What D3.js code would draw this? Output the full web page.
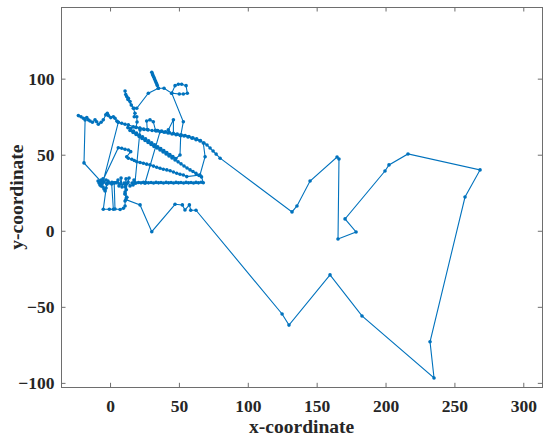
<!DOCTYPE html>
<html lang="en">
<head>
<meta charset="UTF-8">
<title>Trajectory</title>
<script src="https://cdn.jsdelivr.net/npm/d3@7"></script>
<style>
    body { margin: 0; background: #fff; }
    svg { display: block; font-family: "Liberation Serif", "Times New Roman", serif; }
    .tick text { font-family: "Liberation Serif", "Times New Roman", serif; font-size: 17.5px; font-weight: bold; fill: #262626; }
    .tick line { stroke: #6e6e6e; }
    .frame { fill: none; stroke: #6e6e6e; stroke-width: 1; shape-rendering: crispEdges; }
    .track { fill: none; stroke: #0072bd; stroke-width: 1.1; }
    .dot { fill: #0072bd; }
    .axis-label { font-size: 19.5px; font-weight: bold; fill: #262626; text-anchor: middle; }
</style>
</head>
<body>
<svg id="chart" width="550" height="436"></svg>
<script>
// track pieces, [x, y], in the order the path visits them
const blobLeft = [[-7.3,31.4],[-8.7,32.7],[-8.0,31.4],[-6.5,33.4],[-5.8,30.8],[-7.3,30.1],[-5.1,28.8],[-4.4,27.5],[-3.6,26.2],[-2.9,28.1],[-2.2,30.8],[-1.5,32.7],[-2.9,33.4],[-4.4,32.1],[-5.1,34.1],[-6.5,29.5],[-7.3,32.1],[-6.2,32.0]];
const climb = [[-18.9,44.6],[-18.1,72.8]];
const roof = [[-21.1,75.0],[-23.0,75.7],[-19.4,74.0],[-16.9,74.4],[-15.8,72.9],[-14.5,72.2],[-12.8,71.3],[-10.9,72.9],[-9.7,71.7],[-8.5,70.0],[-6.5,71.3],[-4.9,72.9],[-3.1,76.2],[-2.0,77.3],[-1.2,75.7],[0.5,74.4],[2.4,75.0],[3.6,74.0],[4.9,72.2],[6.0,71.3],[-5.1,32.1],[6.0,71.3],[8.5,70.7],[10.9,70.0],[13.3,69.6],[16.9,68.4]];
const lowerBandA = [[14.5,65.9],[16.7,64.6],[18.9,63.3],[21.1,62.0],[23.2,60.7],[25.4,59.4],[27.6,58.1],[29.8,56.7],[31.9,55.4],[34.1,54.4],[36.3,53.1],[38.5,51.8],[40.7,50.5],[42.8,49.2],[45.0,47.9],[47.2,46.6],[49.4,45.3],[51.5,44.0],[53.7,42.6],[55.9,41.3],[58.1,40.0],[60.2,39.0],[62.4,37.7],[64.6,36.4],[66.4,35.4]];
const hBand = [[67.7,31.6],[66.1,31.9],[64.2,31.5],[62.4,31.8],[60.6,31.4],[58.8,31.7],[57.0,31.5],[55.2,31.8],[53.4,31.4],[51.5,31.7],[49.7,31.5],[47.9,31.8],[46.1,31.4],[44.3,31.7],[42.5,31.5],[40.7,31.8],[38.8,31.4],[37.0,31.7],[35.2,31.5],[33.4,31.8],[31.6,31.4],[29.8,31.7],[27.9,31.5],[26.1,31.7],[25.4,31.4],[36.3,65.2],[25.4,31.4],[24.3,31.8],[22.5,31.5],[20.7,31.7],[18.9,31.4],[18.1,31.4],[21.8,66.3],[18.1,31.4]];
const blobMid = [[17.4,33.4],[16.0,31.4],[16.7,30.1],[14.5,29.5],[13.1,32.1],[13.8,34.7],[11.6,34.1],[10.9,28.8],[10.2,31.4],[8.7,28.8],[8.0,34.7],[7.3,30.8],[6.5,29.5],[5.8,33.4],[4.6,31.7],[3.2,31.5],[1.4,31.8],[-0.5,31.5],[-2.4,30.8]];
const lowerRow = [[-4.9,14.1],[-0.5,14.1],[2.4,14.1],[1.2,30.8],[3.0,31.5],[3.6,14.3],[7.3,14.0],[9.7,14.8],[10.9,16.3],[10.9,19.6],[12.1,22.0],[10.9,24.2],[10.9,25.5],[11.5,30.5],[-6.0,31.5]];
const middleBand = [[6.0,54.6],[8.5,54.2],[10.9,53.6],[13.3,53.1],[15.0,52.0],[12.1,48.7],[13.3,47.7],[15.8,47.0],[17.6,46.2],[19.4,45.4],[21.8,44.9],[24.2,44.4],[26.6,43.8],[29.0,43.3],[31.5,42.5],[33.9,41.8],[36.3,41.1],[38.7,40.4],[41.2,40.0],[43.6,39.5],[46.0,38.6],[48.4,37.8],[50.8,37.2],[53.2,36.7],[55.7,35.6]];
const connector = [[65.3,36.7],[69.0,48.7],[67.7,57.7]];
const upperBandBack = [[65.6,59.3],[62.9,60.4],[60.1,61.1],[57.3,62.0],[54.5,62.6],[51.6,63.1],[48.8,63.5],[46.0,64.0],[46.0,72.9],[42.3,66.3],[43.1,64.5],[40.3,65.0],[37.5,65.5],[34.6,65.8],[33.0,66.0],[31.4,71.7],[29.0,72.9],[26.6,72.2],[27.0,66.6],[24.3,66.9],[21.5,67.5],[18.9,68.0]];
const verticalCluster = [[19.6,71.5],[19.4,75.0],[17.6,75.0],[18.1,77.3],[16.9,80.5],[14.5,84.9],[13.3,87.1],[12.1,88.2],[10.9,91.9],[11.4,89.6],[13.0,86.3],[15.4,82.6],[17.4,80.5],[19.4,80.5],[27.8,90.4],[35.1,93.7]];
const spur = [[34.3,95.5],[33.4,97.5],[32.3,99.8],[31.2,102.1],[30.3,104.2],[30.8,103.0],[31.8,100.9],[32.9,98.6],[33.9,96.5],[35.1,93.7],[39.2,93.7],[44.8,90.4]];
const square = [[47.2,95.4],[49.6,96.3],[52.0,96.3],[55.2,95.4],[56.1,90.4],[53.2,89.9],[50.3,89.9],[44.8,90.4],[53.2,71.7],[51.3,62.5],[50.8,49.8],[47.8,47.5]];
const lowerBandB = [[45.6,48.8],[43.4,50.1],[41.2,51.4],[39.0,52.7],[36.8,54.0],[34.6,55.2],[32.4,56.5],[30.2,57.8],[28.0,59.1],[25.8,60.4],[23.6,61.7],[21.4,63.0],[19.2,64.3],[17.0,65.6],[14.8,66.9],[13.0,67.8]];
const upperBandFwd = [[18.9,67.9],[21.8,67.3],[24.7,66.6],[27.6,66.3],[30.5,65.9],[33.4,65.6],[36.3,65.2],[39.2,64.8],[42.1,64.3],[45.0,63.6],[47.9,63.2],[50.8,62.8],[53.7,62.3],[56.6,61.7],[59.5,60.8],[62.4,59.9],[65.3,59.0],[68.2,57.7],[70.4,56.4],[72.6,54.4],[74.8,52.4],[77.0,50.4],[79.9,47.7]];
const outerLoop = [[132.1,12.4],[135.7,16.3],[145.2,32.7],[164.8,48.5],[166.2,47.2],[165.5,-5.4],[178.6,-0.8],[170.6,7.8],[199.6,39.3],[202.5,43.3],[216.3,50.5],[268.6,40.0],[257.7,22.2],[232.3,-73.0],[235.2,-96.8],[182.9,-56.0],[159.7,-29.0],[129.9,-62.0],[124.9,-54.7]];
const returnLeg = [[62.4,13.5],[58.6,13.5],[57.6,17.0],[54.4,13.7],[52.5,17.0],[47.2,17.4],[30.3,-0.6],[21.8,17.0],[11.5,20.5],[12.1,22.0],[10.9,24.2],[11.8,27.0],[12.4,31.2]];

const xTicks = [0, 50, 100, 150, 200, 250, 300];
const yTicks = [-100, -50, 0, 50, 100];

const track = [].concat(blobLeft, climb, roof, lowerBandA, hBand, blobMid, lowerRow,
    middleBand, connector, upperBandBack, verticalCluster, spur, square,
    lowerBandB, upperBandFwd, outerLoop, returnLeg);

const box = {left: 61, right: 542.3, top: 7, bottom: 387.3};
const tickLen = 4.5;

const svg = d3.select("#chart");

const x = d3.scaleLinear().domain([-35.6, 313.8]).range([box.left, box.right]);
const y = d3.scaleLinear().domain([-102.9, 147.1]).range([box.bottom, box.top]);

// axes with inward ticks on all four sides
svg.append("g")
    .attr("transform", `translate(0,${box.bottom})`)
    .call(d3.axisBottom(x).tickValues(xTicks).tickSize(-tickLen).tickSizeOuter(0).tickPadding(12.5))
    .call(g => g.select(".domain").remove());

svg.append("g")
    .attr("transform", `translate(0,${box.top})`)
    .call(d3.axisTop(x).tickValues(xTicks).tickSize(-tickLen).tickSizeOuter(0).tickFormat(""))
    .call(g => g.select(".domain").remove());

svg.append("g")
    .attr("transform", `translate(${box.left},0)`)
    .call(d3.axisLeft(y).tickValues(yTicks).tickSize(-tickLen).tickSizeOuter(0).tickPadding(6.5))
    .call(g => g.select(".domain").remove());

svg.append("g")
    .attr("transform", `translate(${box.right},0)`)
    .call(d3.axisRight(y).tickValues(yTicks).tickSize(-tickLen).tickSizeOuter(0).tickFormat(""))
    .call(g => g.select(".domain").remove());

svg.append("rect")
    .attr("class", "frame")
    .attr("x", box.left)
    .attr("y", box.top)
    .attr("width", box.right - box.left)
    .attr("height", box.bottom - box.top);

// the path and its points
const line = d3.line().x(d => x(d[0])).y(d => y(d[1]));

svg.append("path")
    .attr("class", "track")
    .attr("d", line(track));

svg.selectAll(".dot")
    .data(track)
    .enter()
    .append("circle")
    .attr("class", "dot")
    .attr("cx", d => x(d[0]))
    .attr("cy", d => y(d[1]))
    .attr("r", 1.8);

// axis labels
svg.append("text")
    .attr("class", "axis-label")
    .attr("x", (box.left + box.right) / 2)
    .attr("y", 433)
    .text("x-coordinate");

svg.append("text")
    .attr("class", "axis-label")
    .attr("transform", `translate(23,${(box.top + box.bottom) / 2}) rotate(-90)`)
    .text("y-coordinate");
</script>
</body>
</html>
